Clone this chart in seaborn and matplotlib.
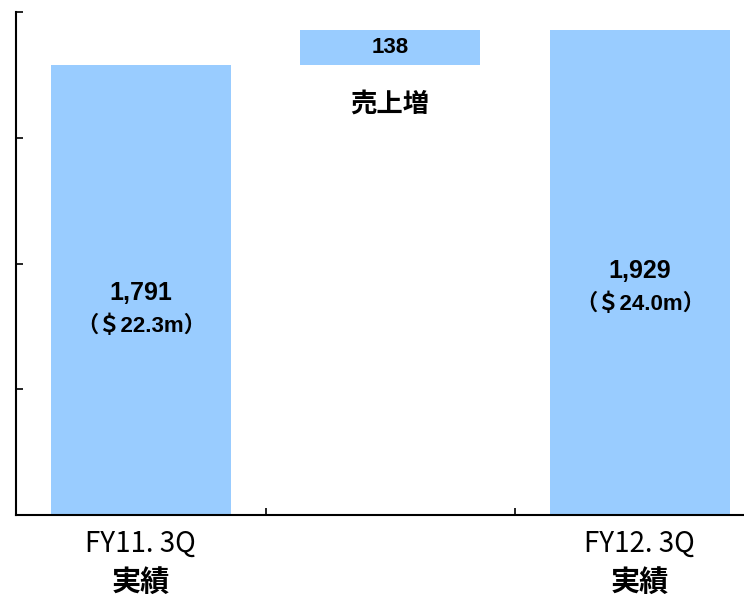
import matplotlib
matplotlib.use("Agg")
import matplotlib.pyplot as plt
import seaborn as sns
import pandas as pd

# data
categories = ["FY11.3Q", "増減", "FY12.3Q"]
period_labels = ["FY11. 3Q", "FY12. 3Q"]
sub_labels = ["実績", "実績"]
start_value = 1791
end_value = 1929
delta = end_value - start_value
usd_labels = ["（＄22.3m）", "（＄24.0m）"]
delta_label = "売上増"

sns.set_theme(style="white")
plt.rcParams['font.family'] = ['Noto Sans CJK JP', 'DejaVu Sans']
num_font = ['Liberation Sans', 'Noto Sans CJK JP']

bar_color = "#99CCFF"

fig = plt.figure(figsize=(7.44, 6), dpi=100)
ax = fig.add_axes([16 / 744, 85 / 600, 748.5 / 744, 503 / 600])

totals = pd.DataFrame({"cat": [categories[0], categories[2]],
                       "value": [start_value, end_value]})
sns.barplot(data=totals, x="cat", y="value", order=categories,
            color=bar_color, saturation=1, width=0.72, linewidth=0, ax=ax)
# floating bar for the increase
ax.bar(1, delta, bottom=start_value, width=0.72, color=bar_color, linewidth=0)

ax.set_xlim(-0.5, 2.5)
ax.set_ylim(0, 2000)
ax.set_xlabel("")
ax.set_ylabel("")

# spines / ticks
for s in ["top", "right"]:
    ax.spines[s].set_visible(False)
for s in ["left", "bottom"]:
    ax.spines[s].set_color("black")
    ax.spines[s].set_linewidth(1.5)
ax.set_yticks([0, 500, 1000, 1500, 2000])
ax.set_yticklabels([])
ax.set_xticks([0.5, 1.5])
ax.set_xticklabels([])
ax.tick_params(axis="both", direction="in", length=5, width=1.2, color="black",
               left=True, bottom=True)

# value labels inside the total bars
for x, v, usd, fy in [(0, start_value, usd_labels[0], 0.493), (2, end_value, usd_labels[1], 0.503)]:
    ax.text(x, v * fy, f"{v:,}", ha="center", va="center", fontsize=18,
            fontweight="bold", family=num_font, color="black")
    ax.text(x, v * fy - 130, usd, ha="center", va="center", fontsize=16,
            fontweight="bold", family=num_font, color="black")

ax.text(1, start_value + delta / 2, f"{delta}", ha="center", va="center",
        fontsize=16, fontweight="bold", family=num_font, color="black")
ax.text(1, start_value - 157, delta_label, ha="center", va="center",
        fontsize=19, fontweight="bold", color="black")

# category labels below axis
trans = ax.get_xaxis_transform()
for x, lab, sub in zip([0, 2], period_labels, sub_labels):
    ax.text(x, -0.058, lab, transform=trans, ha="center", va="center",
            fontsize=20, color="black", clip_on=False)
    ax.text(x, -0.133, sub, transform=trans, ha="center", va="center",
            fontsize=21, fontweight="bold", color="black", clip_on=False)

fig.savefig("out.png", dpi=100)
